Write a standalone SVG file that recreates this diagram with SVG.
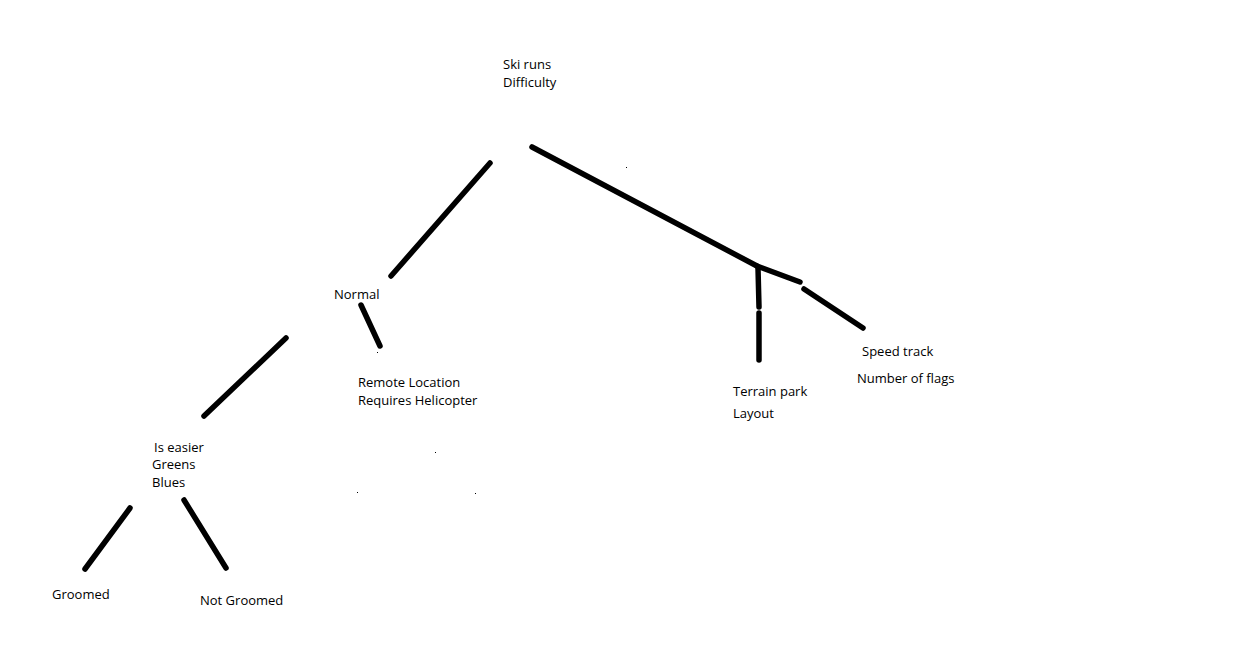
<svg xmlns="http://www.w3.org/2000/svg" width="1259" height="648" viewBox="0 0 1259 648">
<style>
text{font-family:"Open Sans","Noto Sans","Liberation Sans",sans-serif;font-size:13px;fill:#000}
.c line{stroke:#000;stroke-width:5.5;stroke-linecap:round}
.dot{fill:#000}
</style>
<rect width="1259" height="648" fill="#fff"/>
<g class="c" id="connectors">
<line x1="490" y1="163" x2="391" y2="276"/>
<line x1="532" y1="147" x2="757" y2="266"/>
<line x1="757" y1="266" x2="800" y2="282"/>
<line x1="804" y1="289" x2="863" y2="328"/>
<line x1="758" y1="268" x2="759" y2="307"/>
<line x1="759" y1="313" x2="759" y2="360"/>
<line x1="361" y1="305" x2="380" y2="346"/>
<line x1="286" y1="338" x2="204" y2="416"/>
<line x1="130" y1="508" x2="85" y2="569"/>
<line x1="184" y1="500" x2="226" y2="568"/>
</g>
<g id="root"><text x="503" y="69">Ski runs</text><text x="503" y="87">Difficulty</text></g>
<g id="normal"><text x="334" y="299">Normal</text></g>
<g id="remote"><text x="358" y="387">Remote Location</text><text x="358" y="405">Requires Helicopter</text></g>
<g id="easier"><text x="154" y="452">Is easier</text><text x="152" y="469">Greens</text><text x="152" y="487">Blues</text></g>
<g id="groomed"><text x="52" y="599">Groomed</text></g>
<g id="notgroomed"><text x="200" y="605">Not Groomed</text></g>
<g id="terrain"><text x="733" y="396">Terrain park</text><text x="733" y="418">Layout</text></g>
<g id="speed"><text x="862" y="356">Speed track</text><text x="857" y="383">Number of flags</text></g>
<g id="dots">
<rect class="dot" x="626" y="167" width="1" height="1"/>
<rect class="dot" x="377" y="352" width="1" height="1"/>
<rect class="dot" x="435" y="452" width="1" height="1"/>
<rect class="dot" x="357" y="492" width="1" height="1"/>
<rect class="dot" x="475" y="493" width="1" height="1"/>
</g>
</svg>
